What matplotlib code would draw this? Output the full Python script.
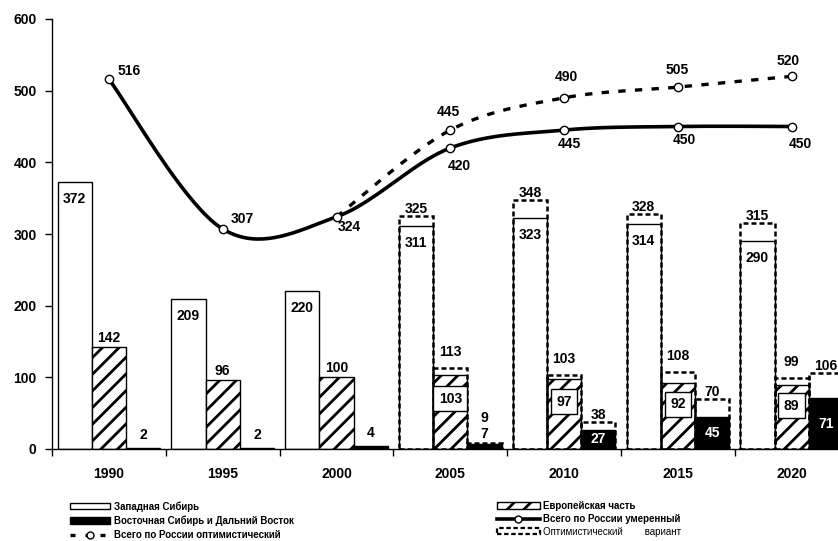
import numpy as np
import matplotlib
matplotlib.use("Agg")
import matplotlib.pyplot as plt
from matplotlib.patches import Patch
from matplotlib.lines import Line2D

plt.rcParams['font.family'] = ['Liberation Sans', 'DejaVu Sans']
plt.rcParams['font.weight'] = 'bold'
plt.rcParams['hatch.linewidth'] = 2.0

# ---------------- data ----------------
years = ['1990', '1995', '2000', '2005', '2010', '2015', '2020']
west = [372, 209, 220, 311, 323, 314, 290]          # Западная Сибирь
europe = [142, 96, 100, 103, 97, 92, 89]            # Европейская часть
east = [2, 2, 4, 7, 27, 45, 71]                     # Восточная Сибирь и ДВ
forecast_idx = [3, 4, 5, 6]
west_opt = [325, 348, 328, 315]
europe_opt = [113, 103, 108, 99]
east_opt = [9, 38, 70, 106]
total_mod = [516, 307, 324, 420, 445, 450, 450]
opt_idx = [2, 3, 4, 5, 6]
total_opt = [324, 445, 490, 505, 520]

# label offsets (pixels) for line labels
mod_off = [(20, 8), (20, 10), (13, -10), (9, -18), (5, -14), (6, -13), (9, -17)]
opt_off = [(-2, 18), (2, 21), (-1, 17), (-4, 15)]

W, H = 838, 541
fig = plt.figure(figsize=(W / 100, H / 100), dpi=100)
ax = fig.add_axes([52 / W, 92 / H, 7 * 113.8 / W, 430 / H])

x = np.arange(len(years))
bw = 0.3
FS = 10

def px(v):
    return v * 0.72  # pixels -> points

# bars
ax.bar(x - bw, west, bw, color='white', edgecolor='black', lw=1.0, zorder=2)
ax.bar(x, europe, bw, color='white', edgecolor='black', hatch='//', lw=1.0, zorder=2)
ax.bar(x + bw, east, bw, color='black', edgecolor='black', lw=1.0, zorder=2)

fx = np.array(forecast_idx)
dash_kw = dict(fill=False, edgecolor='black', lw=1.8, linestyle=(0, (2, 1.2)), zorder=3)
ax.bar(fx - bw, west_opt, bw, **dash_kw)
ax.bar(fx, europe_opt, bw, **dash_kw)
ax.bar(fx + bw, east_opt, bw, **dash_kw)

def lab(xv, yv, s, dx=0, dy=0, va='center', color='black', **kw):
    ax.annotate(s, (xv, yv), xytext=(px(dx), px(dy)), textcoords='offset points',
                ha='center', va=va, fontsize=FS, fontweight='bold', color=color,
                zorder=6, **kw)

# West labels inside top
for i, v in enumerate(west):
    lab(i - bw, v, str(v), dy=-17)
# Europe labels
for i, v in enumerate(europe):
    if i in forecast_idx:
        lab(i, v * 0.68, str(v),
            bbox=dict(boxstyle='square,pad=0.4', fc='white', ec='black', lw=1.0))
    else:
        lab(i, v, str(v), dy=9)
# East labels
for i, v in enumerate(east):
    if i < 3:
        lab(i + bw, v, str(v), dy=13)
    elif v < 15:
        lab(i + bw, v, str(v), dy=10)
    else:
        lab(i + bw, v / 2, str(v), color='white')
# optimistic bar labels
for k, i in enumerate(forecast_idx):
    lab(i - bw, west_opt[k], str(west_opt[k]), dy=7)
    lab(i, europe_opt[k], str(europe_opt[k]), dy=16)
    if east_opt[k] - east[i] < 5:
        lab(i + bw, east_opt[k], str(east_opt[k]), dy=25)
    else:
        lab(i + bw, east_opt[k], str(east_opt[k]), dy=7)

# smooth curve (Catmull-Rom, Excel-like smoothing)
def smooth(xs, ys, n=40):
    xs = np.asarray(xs, float); ys = np.asarray(ys, float)
    P = np.column_stack([xs, ys])
    m = np.zeros_like(P)
    m[1:-1] = (P[2:] - P[:-2]) / 2
    m[0] = (P[1] - P[0]) / 2
    m[-1] = (P[-1] - P[-2]) / 2
    out = []
    t = np.linspace(0, 1, n)[:, None]
    h00 = 2 * t**3 - 3 * t**2 + 1; h10 = t**3 - 2 * t**2 + t
    h01 = -2 * t**3 + 3 * t**2; h11 = t**3 - t**2
    for i in range(len(P) - 1):
        seg = h00 * P[i] + h10 * m[i] + h01 * P[i + 1] + h11 * m[i + 1]
        out.append(seg if i == 0 else seg[1:])
    out = np.vstack(out)
    return out[:, 0], out[:, 1]

sx, sy = smooth(x, total_mod)
ax.plot(sx, sy, color='black', lw=2.6, zorder=4, solid_capstyle='round')
ox, oy = smooth(opt_idx, total_opt)
ax.plot(ox, oy, color='black', lw=2.4, linestyle=(0, (2.2, 2.8)), zorder=4)
ax.plot(x, total_mod, 'o', ms=6, mfc='white', mec='black', mew=1.0, zorder=5)
ax.plot(opt_idx[1:], total_opt[1:], 'o', ms=6, mfc='white', mec='black', mew=1.0, zorder=5)

for i, v in enumerate(total_mod):
    dx, dy = mod_off[i]
    lab(i, v, str(v), dx=dx, dy=dy)
for k, (i, v) in enumerate(zip(opt_idx[1:], total_opt[1:])):
    dx, dy = opt_off[k]
    lab(i, v, str(v), dx=dx, dy=dy)

# axes styling
ax.set_xlim(-0.5, len(years) - 0.5)
ax.set_ylim(0, 600)
ax.set_yticks(range(0, 601, 100))
ax.set_xticks(x)
ax.set_xticklabels(years)
ax.set_xticks(np.arange(-0.5, len(years), 1), minor=True)
ax.tick_params(axis='x', which='major', length=0, pad=13, labelsize=FS)
ax.tick_params(axis='x', which='minor', length=5, width=1, direction='out')
ax.tick_params(axis='y', length=5, width=1, direction='out', pad=6, labelsize=FS)
for lbl in ax.get_xticklabels() + ax.get_yticklabels():
    lbl.set_fontweight('bold')
ax.spines['top'].set_visible(False)
ax.spines['right'].set_visible(False)
ax.spines['left'].set_linewidth(1.0)
ax.spines['bottom'].set_linewidth(1.0)

# legends
LFS = 7
h_west = Patch(facecolor='white', edgecolor='black', lw=1.0)
h_east = Patch(facecolor='black', edgecolor='black', lw=1.0)
h_opt = Line2D([], [], color='black', lw=2.4, linestyle=(0, (1.5, 3)), marker='o',
               ms=5, mfc='white', mec='black')
h_eur = Patch(facecolor='white', edgecolor='black', hatch='//', lw=1.0)
h_mod = Line2D([], [], color='black', lw=2.6, marker='o', ms=5, mfc='white', mec='black')
h_var = Patch(fill=False, edgecolor='black', lw=1.6, linestyle=(0, (2, 1.2)))

leg1 = fig.legend([h_west, h_east, h_opt],
                  ['Западная Сибирь', 'Восточная Сибирь и Дальний Восток',
                   'Всего по России оптимистический'],
                  loc='upper left', bbox_to_anchor=(70 / W, 1 - 501 / H),
                  frameon=False, borderpad=0, borderaxespad=0,
                  handlelength=4.1, handleheight=0.6, handletextpad=0.45,
                  labelspacing=0.4, numpoints=1, prop={'weight': 'bold', 'size': LFS})
leg2 = fig.legend([h_eur, h_mod, h_var],
                  ['Европейская часть', 'Всего по России умеренный',
                   'Оптимистический        вариант'],
                  loc='upper left', bbox_to_anchor=(497 / W, 1 - 501 / H),
                  frameon=False, borderpad=0, borderaxespad=0,
                  handlelength=4.4, handleheight=0.6, handletextpad=0.3,
                  labelspacing=0.3, numpoints=1, prop={'weight': 'bold', 'size': LFS})
leg2.get_texts()[2].set_fontweight('normal')

fig.savefig('out.png', dpi=100)
